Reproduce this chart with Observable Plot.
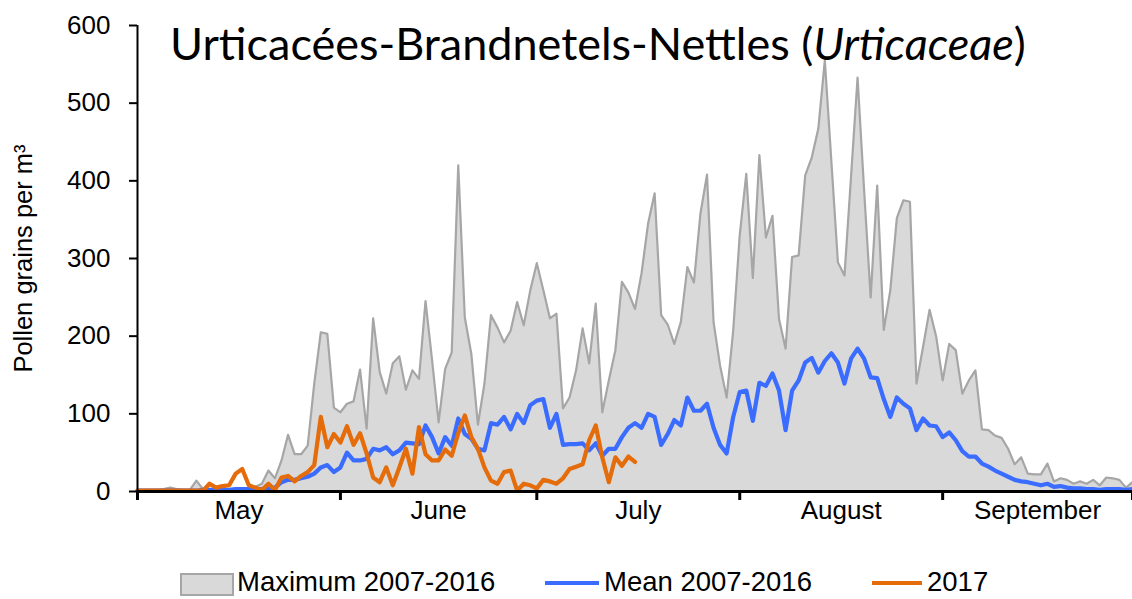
<!DOCTYPE html>
<html>
<head>
<meta charset="utf-8">
<script src="https://cdn.jsdelivr.net/npm/d3@7"></script>
<script src="https://cdn.jsdelivr.net/npm/@observablehq/plot@0.6"></script>
<style>
  body { margin: 0; background: #fff; }
  #wrap { position: relative; width: 1132px; height: 599px; overflow: hidden; font-family: "Liberation Sans", Arial, sans-serif; }
  #title { position: absolute; left: 170px; top: 16px; font-family: Lato, "Open Sans", sans-serif; font-size: 45px; white-space: nowrap; color: #000; }
  .leg { position: absolute; font-size: 27.5px; color: #000; white-space: nowrap; }
</style>
</head>
<body>
<div id="wrap">
  <div id="chart"></div>
  <div id="title">Urticacées-Brandnetels-Nettles (<i>Urticaceae</i>)</div>
  <div id="legend"></div>
</div>
<script>
// Days since 1 May (0 .. 152 = 30 September)
const maxVals = [
  2,2,2,2,3,5,3,2,2,14,3,2,2,2,3,3,4,4,6,
  10,27,17,40,73,48,48,59,139,205,203,108,
  102,113,116,157,81,223,154,126,165,174,131,156,145,245,169,89,158,179,420,224,177,86,139,227,211,192,207,244,214,259,294,
  259,223,229,107,121,156,210,165,242,102,143,182,270,256,235,281,345,384,227,215,190,218,289,269,358,408,218,162,121,207,330,
  409,275,433,327,355,222,184,302,304,407,430,467,555,425,295,278,405,533,388,250,394,208,259,352,375,373,139,186,234,200,
  143,190,182,126,143,156,80,79,72,69,55,35,44,23,22,22,36,13,17,15,10,13,10,15,8,18,17,15,5,12
];
const meanVals = [
  1,1,1,1,1,1,1,1,1,1,2,2,2,2,2,3,3,3,3,
  3,4,5,12,15,15,17,19,23,31,34,25,
  31,50,40,40,42,55,53,57,48,53,63,62,61,85,70,49,70,59,94,74,68,55,53,88,86,96,80,100,88,111,117,
  119,82,100,60,61,61,62,53,62,46,55,55,70,82,88,82,100,96,60,74,92,85,121,104,104,113,82,60,49,96,128,
  130,91,140,136,152,130,79,130,143,166,172,153,168,178,166,139,171,184,171,147,146,119,96,121,113,107,79,94,85,84,
  70,76,66,52,45,45,36,32,27,23,19,15,13,12,10,8,10,6,7,5,4,4,3,3,2,3,3,3,2,3
];
const vals2017 = [
  1,1,1,1,1,1,1,1,1,1,1,
  10,5,7,8,23,29,8,5,2,10,2,18,20,13,20,25,34,96,57,74,
  63,84,60,75,49,18,12,31,8,31,55,23,83,48,40,40,54,46,75,98,70,55,31,14,10,25,27,1,10,8,4,
  15,13,10,17,29,32,35,66,85,44,12,44,33,45,38
];
const monthLabels = ["May", "June", "July", "August", "September"];
const monthStarts = [0, 31, 61, 92, 123];   // day index of first of each month
const lastDay = 152;
const yTicks = [0, 100, 200, 300, 400, 500, 600];
const seriesNames = ["Maximum 2007-2016", "Mean 2007-2016", "2017"];

const grey = "#d9d9d9", greyLine = "#a6a6a6", blue = "#3a6cff", orange = "#e46c0a";

const bounds = [...monthStarts.slice(1), lastDay];
const mids = monthStarts.map((s, i) => (s + bounds[i]) / 2);

const plot = Plot.plot({
  width: 1132,
  height: 545,
  marginLeft: 137,
  marginRight: 0,
  marginTop: 25,
  marginBottom: 54,
  style: { fontFamily: "Liberation Sans, Arial, sans-serif", fontSize: "26px", color: "#000", background: "#fff" },
  x: { domain: [0, lastDay] },
  y: { domain: [0, 600] },
  marks: [
    Plot.areaY(maxVals, { x: (d, i) => i, y: d => d, fill: grey }),
    Plot.lineY(maxVals, { x: (d, i) => i, y: d => d, stroke: greyLine, strokeWidth: 2.2 }),
    Plot.lineY(meanVals, { x: (d, i) => i, y: d => d, stroke: blue, strokeWidth: 4.2 }),
    Plot.lineY(vals2017, { x: (d, i) => i, y: d => d, stroke: orange, strokeWidth: 4.2 }),
    Plot.ruleX([0], { stroke: "#000", strokeWidth: 2 }),
    Plot.ruleY([0], { stroke: "#000", strokeWidth: 3 }),
    Plot.axisY({ ticks: yTicks, tickSize: 8, tickPadding: 19, strokeWidth: 2, stroke: "#000", fontSize: 26, label: null }),
    Plot.axisX({ ticks: monthStarts.concat([lastDay]), tickSize: 9, strokeWidth: 3, stroke: "#000", tickFormat: () => "", label: null }),
    Plot.axisX({ ticks: mids, tickSize: 0, tickPadding: 9, fontSize: 26, tickFormat: d => monthLabels[mids.indexOf(d)], label: null }),
    Plot.text(["Pollen grains per m³"], { frameAnchor: "left", dx: -114, rotate: -90, textAnchor: "middle", fontSize: 25.5, text: d => d })
  ]
});
document.getElementById("chart").appendChild(plot);

// Legend
const legend = document.getElementById("legend");
const items = [
  { name: seriesNames[0], kind: "area", sx: 180, tx: 237 },
  { name: seriesNames[1], kind: "line", color: blue, sx: 545, tx: 604 },
  { name: seriesNames[2], kind: "line", color: orange, sx: 872, tx: 927 }
];
items.forEach(it => {
  const sw = document.createElement("div");
  sw.style.position = "absolute";
  if (it.kind === "area") {
    Object.assign(sw.style, { left: it.sx + "px", top: "573px", width: "50px", height: "19px", background: grey, border: "2px solid " + greyLine });
  } else {
    Object.assign(sw.style, { left: it.sx + "px", top: "581px", width: (it.tx - it.sx - 5) + "px", height: "4px", background: it.color });
  }
  legend.appendChild(sw);
  const t = document.createElement("div");
  t.className = "leg";
  t.style.left = it.tx + "px";
  t.style.top = "566px";
  t.textContent = it.name;
  legend.appendChild(t);
});
</script>
</body>
</html>
